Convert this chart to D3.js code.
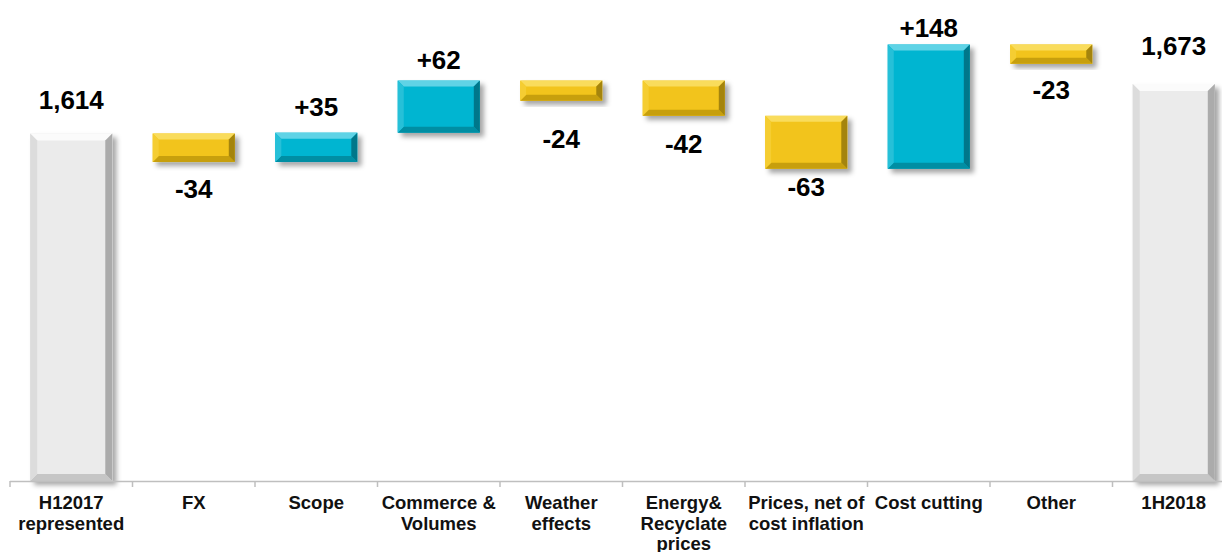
<!DOCTYPE html>
<html>
<head>
<meta charset="utf-8">
<script src="https://cdn.jsdelivr.net/npm/d3@7"></script>
<style>
  html, body { margin: 0; padding: 0; background: #fff; }
  svg { display: block; font-family: "Liberation Sans", Arial, Helvetica, sans-serif; }
</style>
</head>
<body>
<svg id="chart" width="1222" height="552"></svg>
<script>
// Bridge of operating result, H1 2017 (represented) to H1 2018
const categories = [
  "H12017\nrepresented", "FX", "Scope", "Commerce &\nVolumes", "Weather\neffects",
  "Energy&\nRecyclate\nprices", "Prices, net of\ncost inflation", "Cost cutting", "Other", "1H2018"
];
const values = [1614, -34, 35, 62, -24, -42, -63, 148, -23, 1673];
const kinds = ["total", "step", "step", "step", "step", "step", "step", "step", "step", "total"];
// level at which each step bar begins, as drawn on the bridge
const stepStart = [null, 1614, 1580, 1615, 1677, 1677, 1635, 1572, 1720, null];
const axisFloor = 1200;
const axisCeil = 1773;

// layout
const axisY = 481;
const labelGap = [24, 36, 17, 12, 47, 37, 27, 7, 35, 29]; // px between bar edge and value baseline

const svg = d3.select("#chart");

const x = d3.scaleBand().domain(categories).range([10, 1235]).padding(0);
const y = d3.scaleLinear().domain([axisFloor, axisCeil]).range([axisY, 0]);
const barFrac = 0.67;
const bw = x.bandwidth() * barFrac;

const palettes = {
  grey:   { face: "#EBEBEB", top: "#FBFBFB", left: "#DCDCDC", right: "#ABABAB", bottom: "#C6C6C6" },
  cyan:   { face: "#02B5D1", top: "#5ED3E6", left: "#27C0D8", right: "#00778A", bottom: "#008EA3" },
  yellow: { face: "#F2C41A", top: "#F9DC5C", left: "#F5CD30", right: "#A4840A", bottom: "#C79F10" }
};

const defs = svg.append("defs");
const shadow = defs.append("filter").attr("id", "shadow")
  .attr("x", "-20%").attr("y", "-20%").attr("width", "150%").attr("height", "150%");
shadow.append("feDropShadow").attr("dx", 4).attr("dy", 4).attr("stdDeviation", 2.5)
  .attr("flood-color", "#000").attr("flood-opacity", 0.35);

const fmtTotal = d3.format(",");
const fmtStep = v => (v >= 0 ? "+" : "-") + Math.abs(v);

// bar geometry from the data
const bars = categories.map((c, i) => {
  let lo, hi;
  if (kinds[i] === "total") { lo = axisFloor; hi = values[i]; }
  else { const a = stepStart[i], b = a + values[i]; lo = Math.min(a, b); hi = Math.max(a, b); }
  const pal = kinds[i] === "total" ? palettes.grey : (values[i] >= 0 ? palettes.cyan : palettes.yellow);
  return { c, i, v: values[i], lo, hi, pal };
});

const g = svg.append("g");

bars.forEach(d => {
  const x0 = x(d.c) + (x.bandwidth() - bw) / 2;
  const x1 = x0 + bw;
  const y0 = y(d.hi), y1 = y(d.lo);
  const b = Math.min(kinds[d.i] === "total" ? 7 : 6, (y1 - y0) / 3);
  const bar = g.append("g").attr("filter", "url(#shadow)");
  bar.append("rect").attr("x", x0).attr("y", y0).attr("width", bw).attr("height", y1 - y0)
    .attr("fill", d.pal.face);
  const poly = (pts, fill) => bar.append("polygon")
    .attr("points", pts.map(p => p.join(",")).join(" ")).attr("fill", fill);
  poly([[x0, y0], [x1, y0], [x1 - b, y0 + b], [x0 + b, y0 + b]], d.pal.top);
  poly([[x0, y1], [x1, y1], [x1 - b, y1 - b], [x0 + b, y1 - b]], d.pal.bottom);
  poly([[x0, y0], [x0 + b, y0 + b], [x0 + b, y1 - b], [x0, y1]], d.pal.left);
  poly([[x1, y0], [x1 - b, y0 + b], [x1 - b, y1 - b], [x1, y1]], d.pal.right);

  // value label
  const cx = x(d.c) + x.bandwidth() / 2;
  const below = kinds[d.i] === "step" && d.v < 0;
  g.append("text")
    .attr("x", cx)
    .attr("y", below ? y1 + labelGap[d.i] : y0 - labelGap[d.i])
    .attr("text-anchor", "middle")
    .attr("font-size", 26).attr("font-weight", "bold").attr("fill", "#000")
    .text(kinds[d.i] === "total" ? fmtTotal(d.v) : fmtStep(d.v));
});

// category axis
const axis = svg.append("g");
axis.append("line").attr("x1", 10).attr("x2", 1235).attr("y1", axisY + 0.5).attr("y2", axisY + 0.5)
  .attr("stroke", "#BFBFBF").attr("stroke-width", 1.5);
const bounds = categories.map(c => x(c)).concat([x.range()[1]]);
axis.selectAll("line.tick").data(bounds).join("line").attr("class", "tick")
  .attr("x1", d => d).attr("x2", d => d).attr("y1", axisY).attr("y2", axisY + 6)
  .attr("stroke", "#BFBFBF").attr("stroke-width", 1.5);

const lbl = axis.selectAll("text.cat").data(categories).join("text").attr("class", "cat")
  .attr("text-anchor", "middle").attr("font-size", 18.5).attr("font-weight", "bold").attr("fill", "#111")
  .attr("transform", d => `translate(${x(d) + x.bandwidth() / 2},509)`);
lbl.selectAll("tspan").data(d => d.split("\n")).join("tspan")
  .attr("x", 0).attr("dy", (d, i) => i === 0 ? 0 : 20.5).text(d => d);
</script>
</body>
</html>
